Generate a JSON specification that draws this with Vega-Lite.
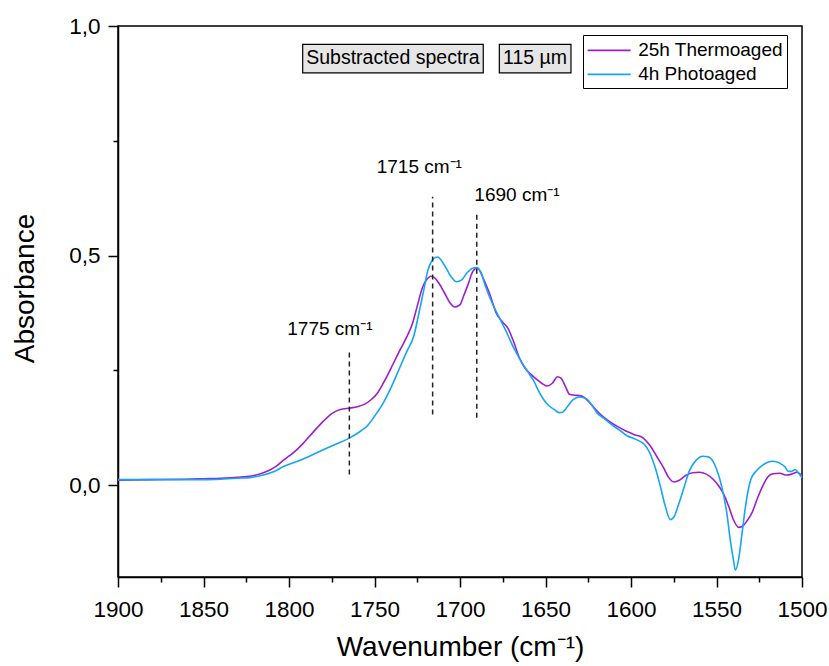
{
  "$schema": "https://vega.github.io/schema/vega-lite/v6.json",
  "width": 684,
  "height": 551,
  "autosize": {"type": "none"},
  "padding": {"left": 118, "top": 26, "right": 27, "bottom": 89},
  "background": "white",
  "config": {
    "font": "Liberation Sans",
    "view": {"stroke": "black", "strokeWidth": 1.5},
    "axis": {
      "grid": false,
      "domainColor": "black",
      "domainWidth": 1.5,
      "tickColor": "black",
      "tickWidth": 1.5,
      "labelColor": "black",
      "titleColor": "black",
      "labelFont": "Liberation Sans",
      "titleFont": "Liberation Sans",
      "titleFontWeight": "normal",
      "labelOverlap": false,
      "labelFlush": false,
      "labelBound": false
    },
    "legend": {
      "orient": "none",
      "legendX": 465,
      "legendY": 9,
      "symbolType": "M-1,0H3",
      "symbolSize": 462,
      "symbolStrokeWidth": 1.6,
      "labelFont": "Liberation Sans",
      "labelFontSize": 19,
      "labelColor": "black",
      "labelOffset": 27.8,
      "strokeColor": "black",
      "fillColor": "white",
      "padding": 3.4,
      "rowPadding": 2
    }
  },
  "datasets": {
    "thermo": [
      {"wn": 1900, "A": 0.011}, {"wn": 1880, "A": 0.012}, {"wn": 1860, "A": 0.013}, {"wn": 1850, "A": 0.014},
      {"wn": 1840, "A": 0.015}, {"wn": 1830, "A": 0.017}, {"wn": 1822, "A": 0.020}, {"wn": 1815, "A": 0.027},
      {"wn": 1808, "A": 0.040}, {"wn": 1803, "A": 0.055}, {"wn": 1797, "A": 0.072}, {"wn": 1792, "A": 0.090},
      {"wn": 1786, "A": 0.115}, {"wn": 1780, "A": 0.139}, {"wn": 1775, "A": 0.156}, {"wn": 1770, "A": 0.165},
      {"wn": 1764, "A": 0.168}, {"wn": 1760, "A": 0.171}, {"wn": 1756, "A": 0.176}, {"wn": 1752, "A": 0.186},
      {"wn": 1748, "A": 0.202}, {"wn": 1744, "A": 0.228}, {"wn": 1739, "A": 0.265}, {"wn": 1735, "A": 0.295},
      {"wn": 1731, "A": 0.324}, {"wn": 1728, "A": 0.350}, {"wn": 1725, "A": 0.390}, {"wn": 1722, "A": 0.430},
      {"wn": 1719, "A": 0.450}, {"wn": 1717, "A": 0.455}, {"wn": 1715, "A": 0.452}, {"wn": 1712, "A": 0.438},
      {"wn": 1709, "A": 0.418}, {"wn": 1706, "A": 0.398}, {"wn": 1703, "A": 0.388}, {"wn": 1700, "A": 0.393},
      {"wn": 1698, "A": 0.411}, {"wn": 1695, "A": 0.440}, {"wn": 1693, "A": 0.462}, {"wn": 1690, "A": 0.473},
      {"wn": 1688, "A": 0.464}, {"wn": 1686, "A": 0.447}, {"wn": 1682, "A": 0.410}, {"wn": 1679, "A": 0.376},
      {"wn": 1675, "A": 0.355}, {"wn": 1672, "A": 0.342}, {"wn": 1669, "A": 0.316}, {"wn": 1665, "A": 0.275},
      {"wn": 1662, "A": 0.255}, {"wn": 1659, "A": 0.243}, {"wn": 1655, "A": 0.230}, {"wn": 1651, "A": 0.219},
      {"wn": 1649, "A": 0.216}, {"wn": 1646, "A": 0.222}, {"wn": 1643, "A": 0.236}, {"wn": 1641, "A": 0.233},
      {"wn": 1638, "A": 0.212}, {"wn": 1636, "A": 0.198}, {"wn": 1633, "A": 0.196}, {"wn": 1630, "A": 0.195},
      {"wn": 1627, "A": 0.190}, {"wn": 1624, "A": 0.179}, {"wn": 1620, "A": 0.162}, {"wn": 1616, "A": 0.148},
      {"wn": 1612, "A": 0.137}, {"wn": 1608, "A": 0.128}, {"wn": 1603, "A": 0.118}, {"wn": 1598, "A": 0.110},
      {"wn": 1593, "A": 0.103}, {"wn": 1589, "A": 0.087}, {"wn": 1585, "A": 0.063}, {"wn": 1581, "A": 0.038},
      {"wn": 1578, "A": 0.017}, {"wn": 1575, "A": 0.007}, {"wn": 1572, "A": 0.010}, {"wn": 1568, "A": 0.021},
      {"wn": 1564, "A": 0.027}, {"wn": 1560, "A": 0.028}, {"wn": 1556, "A": 0.024}, {"wn": 1552, "A": 0.013},
      {"wn": 1549, "A": 0.000}, {"wn": 1546, "A": -0.018}, {"wn": 1543, "A": -0.045}, {"wn": 1540, "A": -0.076},
      {"wn": 1537, "A": -0.092}, {"wn": 1535, "A": -0.090}, {"wn": 1532, "A": -0.077}, {"wn": 1529, "A": -0.058},
      {"wn": 1526, "A": -0.028}, {"wn": 1523, "A": -0.002}, {"wn": 1520, "A": 0.018}, {"wn": 1517, "A": 0.025},
      {"wn": 1513, "A": 0.026}, {"wn": 1509, "A": 0.022}, {"wn": 1506, "A": 0.024}, {"wn": 1503, "A": 0.028},
      {"wn": 1500, "A": 0.020}
    ],
    "photo": [
      {"wn": 1900, "A": 0.012}, {"wn": 1880, "A": 0.012}, {"wn": 1860, "A": 0.012}, {"wn": 1850, "A": 0.012},
      {"wn": 1840, "A": 0.013}, {"wn": 1830, "A": 0.015}, {"wn": 1822, "A": 0.017}, {"wn": 1815, "A": 0.022},
      {"wn": 1808, "A": 0.031}, {"wn": 1803, "A": 0.041}, {"wn": 1795, "A": 0.052}, {"wn": 1788, "A": 0.063},
      {"wn": 1780, "A": 0.077}, {"wn": 1772, "A": 0.090}, {"wn": 1764, "A": 0.104}, {"wn": 1758, "A": 0.118},
      {"wn": 1754, "A": 0.130}, {"wn": 1750, "A": 0.150}, {"wn": 1745, "A": 0.178}, {"wn": 1740, "A": 0.215},
      {"wn": 1735, "A": 0.258}, {"wn": 1731, "A": 0.292}, {"wn": 1727, "A": 0.325}, {"wn": 1724, "A": 0.375},
      {"wn": 1721, "A": 0.428}, {"wn": 1719, "A": 0.465}, {"wn": 1717, "A": 0.485}, {"wn": 1715, "A": 0.495},
      {"wn": 1713, "A": 0.497}, {"wn": 1711, "A": 0.490}, {"wn": 1708, "A": 0.472}, {"wn": 1705, "A": 0.453},
      {"wn": 1702, "A": 0.443}, {"wn": 1699, "A": 0.447}, {"wn": 1696, "A": 0.462}, {"wn": 1693, "A": 0.472},
      {"wn": 1690, "A": 0.474}, {"wn": 1688, "A": 0.465}, {"wn": 1685, "A": 0.432}, {"wn": 1681, "A": 0.395},
      {"wn": 1677, "A": 0.365}, {"wn": 1673, "A": 0.335}, {"wn": 1670, "A": 0.310}, {"wn": 1667, "A": 0.288},
      {"wn": 1663, "A": 0.262}, {"wn": 1660, "A": 0.245}, {"wn": 1657, "A": 0.228}, {"wn": 1654, "A": 0.205},
      {"wn": 1651, "A": 0.186}, {"wn": 1648, "A": 0.173}, {"wn": 1645, "A": 0.165}, {"wn": 1642, "A": 0.158},
      {"wn": 1640, "A": 0.159}, {"wn": 1637, "A": 0.172}, {"wn": 1634, "A": 0.186}, {"wn": 1630, "A": 0.192},
      {"wn": 1626, "A": 0.188}, {"wn": 1623, "A": 0.175}, {"wn": 1620, "A": 0.158}, {"wn": 1616, "A": 0.146},
      {"wn": 1613, "A": 0.137}, {"wn": 1610, "A": 0.128}, {"wn": 1606, "A": 0.118}, {"wn": 1602, "A": 0.107},
      {"wn": 1598, "A": 0.101}, {"wn": 1595, "A": 0.096}, {"wn": 1592, "A": 0.088}, {"wn": 1589, "A": 0.070},
      {"wn": 1586, "A": 0.040}, {"wn": 1583, "A": 0.000}, {"wn": 1580, "A": -0.045}, {"wn": 1577, "A": -0.075},
      {"wn": 1575, "A": -0.070}, {"wn": 1572, "A": -0.040}, {"wn": 1569, "A": -0.005}, {"wn": 1566, "A": 0.030},
      {"wn": 1562, "A": 0.054}, {"wn": 1558, "A": 0.063}, {"wn": 1555, "A": 0.062}, {"wn": 1552, "A": 0.052},
      {"wn": 1550, "A": 0.035}, {"wn": 1547, "A": -0.002}, {"wn": 1544, "A": -0.060}, {"wn": 1542, "A": -0.118},
      {"wn": 1540, "A": -0.165}, {"wn": 1539, "A": -0.185}, {"wn": 1537, "A": -0.160}, {"wn": 1535, "A": -0.103},
      {"wn": 1533, "A": -0.045}, {"wn": 1530, "A": 0.012}, {"wn": 1527, "A": 0.030}, {"wn": 1524, "A": 0.041},
      {"wn": 1520, "A": 0.050}, {"wn": 1517, "A": 0.052}, {"wn": 1513, "A": 0.048}, {"wn": 1510, "A": 0.040},
      {"wn": 1508, "A": 0.030}, {"wn": 1506, "A": 0.030}, {"wn": 1504, "A": 0.034}, {"wn": 1502, "A": 0.026},
      {"wn": 1500, "A": 0.016}
    ],
    "peaks": [
      {"wn": 1764.7, "A": 0.023, "A2": 0.291, "label": "1775 cm⁻¹", "lx": 1801, "ly": 0.328},
      {"wn": 1716.0, "A": 0.154, "A2": 0.628, "label": "1715 cm⁻¹", "lx": 1748.7, "ly": 0.679},
      {"wn": 1690.2, "A": 0.147, "A2": 0.592, "label": "1690 cm⁻¹", "lx": 1691.6, "ly": 0.619}
    ],
    "boxes": [
      {"wn": 1792, "wn2": 1686.4, "A": 0.960, "A2": 0.898, "tx": 1739.2, "ty": 0.9167, "label": "Substracted spectra"},
      {"wn": 1677, "wn2": 1635.1, "A": 0.960, "A2": 0.898, "tx": 1656.1, "ty": 0.9167, "label": "115 µm"}
    ]
  },
  "layer": [
    {
      "data": {"name": "thermo"},
      "mark": {"type": "line", "interpolate": "monotone", "strokeWidth": 1.6},
      "encoding": {
        "x": {
          "field": "wn",
          "type": "quantitative",
          "scale": {"domain": [1500, 1900], "reverse": true, "nice": false, "zero": false},
          "axis": {
            "title": "Wavenumber (cm⁻¹)",
            "titleFontSize": 28,
            "titlePadding": 13,
            "labelFontSize": 22.5,
            "labelPadding": 11,
            "values": [1500, 1525, 1550, 1575, 1600, 1625, 1650, 1675, 1700, 1725, 1750, 1775, 1800, 1825, 1850, 1875, 1900],
            "labelExpr": "datum.value % 50 === 0 ? format(datum.value, 'd') : ''",
            "tickSize": {"condition": {"test": "datum.value % 50 === 0", "value": 10}, "value": 5}
          }
        },
        "y": {
          "field": "A",
          "type": "quantitative",
          "scale": {"domain": [-0.2, 1.0], "nice": false, "zero": false},
          "axis": {
            "title": "Absorbance",
            "titleFontSize": 28,
            "titlePadding": 29,
            "titleY": 262,
            "labelFontSize": 22.5,
            "labelPadding": 8,
            "values": [0, 0.25, 0.5, 0.75, 1.0],
            "labelExpr": "(datum.value === 0.25 || datum.value === 0.75) ? '' : replace(format(datum.value, '.1f'), '.', ',')",
            "tickSize": {"condition": {"test": "datum.value === 0.25 || datum.value === 0.75", "value": 5}, "value": 10}
          }
        },
        "color": {
          "datum": "25h Thermoaged",
          "type": "nominal",
          "scale": {"domain": ["25h Thermoaged", "4h Photoaged"], "range": ["#9E1ECF", "#14A6F6"]},
          "legend": {"title": null}
        }
      }
    },
    {
      "data": {"name": "photo"},
      "mark": {"type": "line", "interpolate": "monotone", "strokeWidth": 1.6},
      "encoding": {
        "x": {"field": "wn", "type": "quantitative"},
        "y": {"field": "A", "type": "quantitative"},
        "color": {"datum": "4h Photoaged", "type": "nominal"}
      }
    },
    {
      "data": {"name": "peaks"},
      "mark": {"type": "rule", "strokeDash": [5, 4], "strokeWidth": 1.5, "color": "#222222"},
      "encoding": {
        "x": {"field": "wn", "type": "quantitative"},
        "y": {"field": "A", "type": "quantitative"},
        "y2": {"field": "A2"}
      }
    },
    {
      "data": {"name": "peaks"},
      "mark": {"type": "text", "align": "left", "baseline": "alphabetic", "fontSize": 19, "color": "black", "font": "Liberation Sans"},
      "encoding": {
        "x": {"field": "lx", "type": "quantitative"},
        "y": {"field": "ly", "type": "quantitative"},
        "text": {"field": "label"}
      }
    },
    {
      "data": {"name": "boxes"},
      "mark": {"type": "rect", "fill": "#E6E6E6", "stroke": "black", "strokeWidth": 1.2},
      "encoding": {
        "x": {"field": "wn", "type": "quantitative"},
        "x2": {"field": "wn2"},
        "y": {"field": "A", "type": "quantitative"},
        "y2": {"field": "A2"}
      }
    },
    {
      "data": {"name": "boxes"},
      "mark": {"type": "text", "align": "center", "baseline": "alphabetic", "fontSize": 19.5, "color": "black", "font": "Liberation Sans"},
      "encoding": {
        "x": {"field": "tx", "type": "quantitative"},
        "y": {"field": "ty", "type": "quantitative"},
        "text": {"field": "label"}
      }
    }
  ]
}
